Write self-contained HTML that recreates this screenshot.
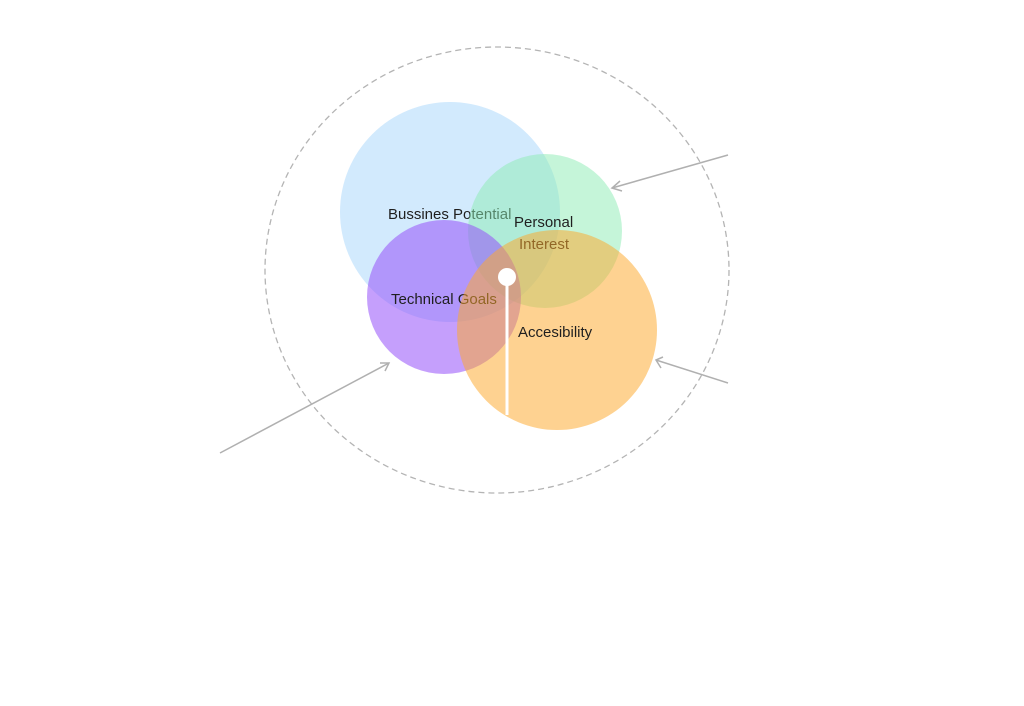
<!DOCTYPE html>
<html><head><meta charset="utf-8"><style>
html,body{margin:0;padding:0;background:#fff;width:1024px;height:706px;overflow:hidden}
text{font-family:"Liberation Sans",sans-serif;font-size:15px;fill:#1f1f1f}
</style></head><body>
<svg width="1024" height="706" viewBox="0 0 1024 706" xmlns="http://www.w3.org/2000/svg">
<ellipse cx="497" cy="270" rx="232" ry="223" fill="none" stroke="#b4b4b4" stroke-width="1.3" stroke-dasharray="6 4"/>
<g stroke="#b0b0b0" stroke-width="1.5" fill="none">
<line x1="728" y1="155" x2="612" y2="188"/><polyline points="620,181 612,188 622,191"/>
<line x1="728" y1="383" x2="656" y2="360"/><polyline points="663,357 656,360 661,368"/>
<line x1="220" y1="453" x2="389" y2="363"/><polyline points="380,363 389,363 385,371"/>
</g>
<circle cx="450" cy="212" r="110" fill="rgba(165,213,251,0.5)"/>
<text x="388" y="219">Bussines Potential</text>
<circle cx="545" cy="231" r="77" fill="rgba(140,235,180,0.5)"/>
<text x="514" y="227">Personal</text>
<text x="519" y="249">Interest</text>
<circle cx="444" cy="297" r="77" fill="rgba(150,80,250,0.55)"/>
<text x="391" y="304">Technical Goals</text>
<circle cx="557" cy="330" r="100" fill="rgba(253,168,45,0.52)"/>
<text x="518" y="337">Accesibility</text>
<line x1="507" y1="280" x2="507" y2="415" stroke="#fff" stroke-width="3"/>
<circle cx="507" cy="277" r="9" fill="#fff"/>
</svg>
</body></html>
